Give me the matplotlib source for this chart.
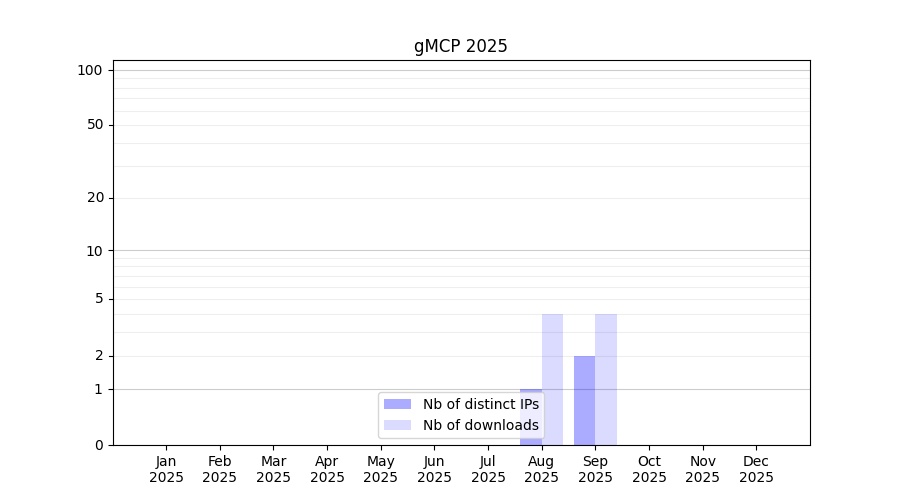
import numpy as np
import matplotlib
matplotlib.use('Agg')
import matplotlib.pyplot as plt
from matplotlib.ticker import FixedLocator, FixedFormatter, NullFormatter

# Données
mois = ['Jan', 'Feb', 'Mar', 'Apr', 'May', 'Jun', 'Jul', 'Aug', 'Sep', 'Oct', 'Nov', 'Dec']
annee = '2025'
nb_ips = [0, 0, 0, 0, 0, 0, 0, 1, 2, 0, 0, 0]
nb_downloads = [0, 0, 0, 0, 0, 0, 0, 4, 4, 0, 0, 0]


def forward(y):
    return np.log10(1 + np.maximum(y, 0))


def inverse(y):
    return 10 ** y - 1


fig, ax = plt.subplots(figsize=(9, 5), dpi=100)

x = np.arange(len(mois))
ax.bar(x - 0.4, nb_ips, width=0.4, align='edge', color='blue', alpha=0.33,
       label='Nb of distinct IPs')
ax.bar(x, nb_downloads, width=0.4, align='edge', color='blue', alpha=0.14,
       label='Nb of downloads')

ax.set_yscale('function', functions=(forward, inverse))
ax.set_ylim(0, 113)
ax.set_xlim(-1, 12)

# graduations
ax.yaxis.set_major_locator(FixedLocator([0, 1, 10, 100]))
ax.yaxis.set_major_formatter(FixedFormatter(['0', '1', '10', '100']))
mineurs = [2, 3, 4, 5, 6, 7, 8, 9, 20, 30, 40, 50, 60, 70, 80, 90]
ax.yaxis.set_minor_locator(FixedLocator(mineurs))
ax.yaxis.set_minor_formatter(NullFormatter())
ax.tick_params(axis='y', which='minor', length=0)
for v in [2, 5, 20, 50]:
    ax.text(-0.012, forward(v) / forward(113), str(v), transform=ax.transAxes,
            ha='right', va='center', fontsize=10)
    ax.plot([-0.0055, 0], [forward(v) / forward(113)] * 2, transform=ax.transAxes,
            color='black', lw=0.8, clip_on=False)

ax.grid(axis='y', which='major', color='#cccccc', lw=0.8)
ax.grid(axis='y', which='minor', color='#eeeeee', lw=0.8)
ax.set_axisbelow(True)

ax.set_xticks(x)
ax.set_xticklabels([f'{m}\n{annee}' for m in mois])

ax.set_title('gMCP 2025')
ax.legend(loc='lower center')

plt.savefig('out.png')
